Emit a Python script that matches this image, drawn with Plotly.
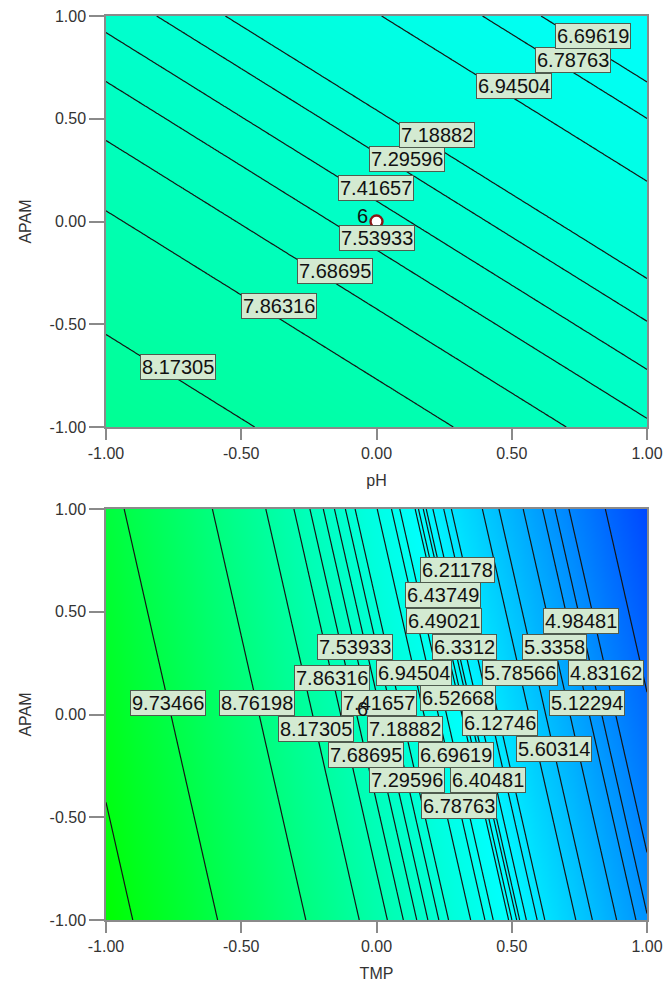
import numpy as np
import plotly.graph_objects as go

# Fitted linear response model (coded factor levels, -1 .. 1)
INTERCEPT = 7.468
COEF_TMP = -2.982
COEF_PH = -0.422
COEF_APAM = -0.515

# Design (centre) point and its replicate count
center_x = [0.0]
center_y = [0.0]
center_runs = "6"

# Contour levels shown on the pH x APAM panel (TMP held at centre)
ph_levels = [8.17305, 7.86316, 7.68695, 7.53933, 7.41657,
             7.29596, 7.18882, 6.94504, 6.78763, 6.69619]
ph_label_apam = [-0.708, -0.412, -0.24, -0.078, 0.161,
                 0.302, 0.42, 0.659, 0.786, 0.903]

# Contour levels shown on the TMP x APAM panel (pH held at centre)
tmp_levels = [10.67, 9.73466, 8.76198, 8.17305, 7.86316, 7.68695, 7.53933,
              7.41657, 7.29596, 7.18882, 6.94504, 6.78763, 6.69619, 6.52668,
              6.49021, 6.43749, 6.40481, 6.3312, 6.21178, 6.12746, 5.78566,
              5.60314, 5.3358, 5.12294, 4.98481, 4.83162, 4.43]
tmp_label_apam = [None, 0.054, 0.054, -0.072, 0.180, -0.196, 0.329,
                  0.054, -0.318, -0.072, 0.203, -0.444, -0.196, 0.078,
                  0.455, 0.580, -0.318, 0.329, 0.704, -0.043, 0.203,
                  -0.169, 0.329, 0.054, 0.455, 0.203, None]

tick_vals = [-1.0, -0.5, 0.0, 0.5, 1.0]
tick_text = ["-1.00", "-0.50", "0.00", "0.50", "1.00"]

FONT = "Liberation Sans, Arial, sans-serif"
ZMIN, ZCYAN, ZMAX = 3.0, 6.5, 11.0
colorscale = [[0.0, "rgb(0,0,255)"],
              [(ZCYAN - ZMIN) / (ZMAX - ZMIN), "rgb(0,255,255)"],
              [1.0, "rgb(0,255,0)"]]

grid = np.linspace(-1, 1, 161)
GX, GY = np.meshgrid(grid, grid)

fig = go.Figure()
annotations = []


def add_panel(xa, ya, coef_x, levels, label_apam, label_xshift):
    z = INTERCEPT + coef_x * GX + COEF_APAM * GY
    fig.add_trace(go.Heatmap(
        x=grid, y=grid, z=z, colorscale=colorscale, zmin=ZMIN, zmax=ZMAX,
        zsmooth="best", showscale=False, hoverinfo="skip",
        xaxis=xa, yaxis=ya))
    for lev in levels:
        fig.add_trace(go.Contour(
            x=grid, y=grid, z=z, autocontour=False,
            contours=dict(start=lev, end=lev, size=0.001, coloring="none"),
            line=dict(color="#151515", width=1.2), showscale=False,
            hoverinfo="skip", xaxis=xa, yaxis=ya))
    for lev, a in zip(levels, label_apam):
        if a is None:
            continue
        x_on_line = (lev - INTERCEPT - COEF_APAM * a) / coef_x
        annotations.append(dict(
            x=x_on_line, y=a, xref=xa, yref=ya, text=f"{lev:g}",
            showarrow=False, xshift=label_xshift,
            font=dict(family=FONT, size=20, color="#111111"),
            bgcolor="#d3ead1", bordercolor="#4f5c4f", borderwidth=1,
            borderpad=1))
    fig.add_trace(go.Scatter(
        x=center_x, y=center_y, mode="markers",
        marker=dict(symbol="circle", size=12, color="white",
                    line=dict(color="#8b1515", width=2.4)),
        hoverinfo="skip", showlegend=False, xaxis=xa, yaxis=ya))
    annotations.append(dict(
        x=center_x[0], y=center_y[0], xref=xa, yref=ya, text=center_runs,
        showarrow=False, xshift=-14, yshift=6,
        font=dict(family=FONT, size=20, color="#111111")))


add_panel("x", "y", COEF_PH, ph_levels, ph_label_apam, 20)
add_panel("x2", "y2", COEF_TMP, tmp_levels, tmp_label_apam, 0)

axis_common = dict(
    range=[-1, 1], tickvals=tick_vals, ticktext=tick_text,
    ticks="outside", tickcolor="#8a8a8a", tickwidth=1.5,
    showline=True, mirror=True, linecolor="#8a8a8a", linewidth=1.5,
    showgrid=False, zeroline=False, automargin=False,
    tickfont=dict(family=FONT, size=16, color="#333333"))

XDOM = [106 / 672, 647 / 672]
TOP_DOM = [1 - 427 / 983, 1 - 16 / 983]
BOT_DOM = [1 - 920 / 983, 1 - 509 / 983]

fig.update_layout(
    width=672, height=983,
    margin=dict(l=0, r=0, t=0, b=0),
    paper_bgcolor="white", plot_bgcolor="white",
    showlegend=False,
    xaxis=dict(axis_common, domain=XDOM, anchor="y", ticklen=11,
               title=dict(text="pH", standoff=14,
                          font=dict(family=FONT, size=16, color="#333333"))),
    yaxis=dict(axis_common, domain=TOP_DOM, anchor="x", ticklen=15,
               title=dict(text="APAM", standoff=14,
                          font=dict(family=FONT, size=16, color="#333333"))),
    xaxis2=dict(axis_common, domain=XDOM, anchor="y2", ticklen=11,
                title=dict(text="TMP", standoff=14,
                           font=dict(family=FONT, size=16, color="#333333"))),
    yaxis2=dict(axis_common, domain=BOT_DOM, anchor="x2", ticklen=15,
                title=dict(text="APAM", standoff=14,
                           font=dict(family=FONT, size=16, color="#333333"))),
    annotations=annotations,
)

fig.write_html("out.html")
